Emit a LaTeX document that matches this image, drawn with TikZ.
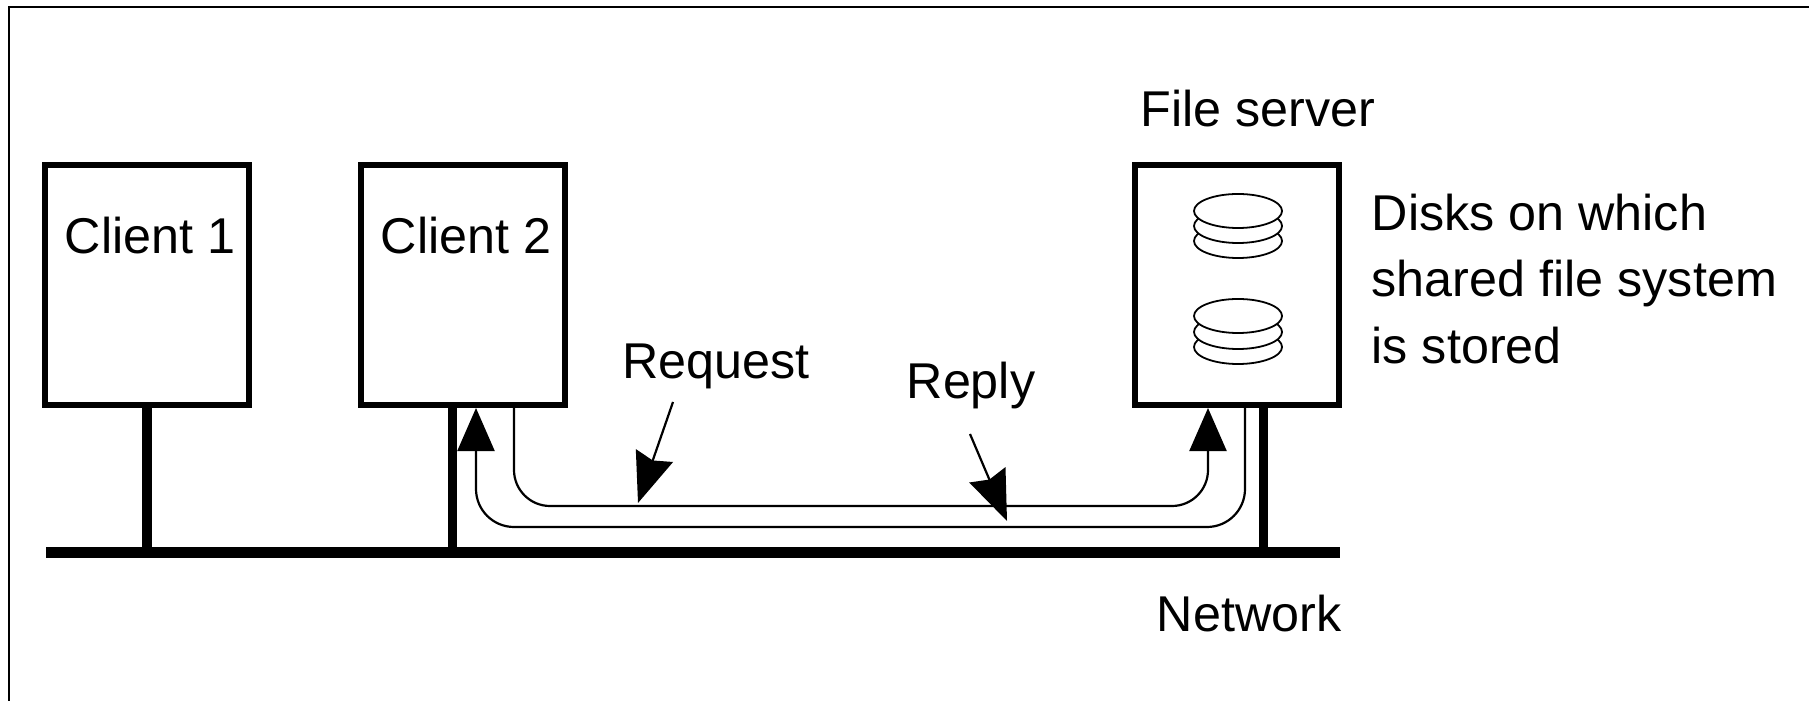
\documentclass[tikz,border=0pt]{standalone}
\usepackage{fontspec}
\setmainfont{Liberation Sans}
\usetikzlibrary{arrows.meta,shapes.geometric}
\tikzset{
  hostbox/.style={draw,line width=0.6mm,minimum width=2.04cm,minimum height=2.39cm,inner sep=0pt},
  hostlabel/.style={font=\fontsize{14.3}{18.8}\selectfont,inner sep=0pt},
  disk/.style={draw,fill=white,ellipse,line width=0.18mm,minimum width=0.88cm,minimum height=0.34cm,inner sep=0pt},
  wire/.style={line width=0.9mm},
  flow/.style={line width=0.22mm,rounded corners=0.36cm,-{Triangle[length=0.43cm,width=0.37cm]}},
  pointer/.style={line width=0.22mm,-{Stealth[length=0.5cm,width=0.39cm,inset=0.05cm]}}
}
\begin{document}
\begin{tikzpicture}[x=0.01cm,y=-0.01cm]
\useasboundingbox (0,0) rectangle (1809,701);
\draw [line width=0.22mm] (9,701) -- (9,7) -- (1809,7);
\node [hostbox] (client1) at (147,285) {};
\node [hostbox] (client2) at (463,285) {};
\node [hostbox] (server) at (1237,285) {};
\node [hostlabel] (client1text) at (150,236) {Client 1};
\node [hostlabel] (client2text) at (466,236) {Client 2};
\node [hostlabel] (servertext) at (1258,109) {File server};
\node [hostlabel,align=left,anchor=west] (disktext) at (1371,279) {Disks on which\\shared file system\\is stored};
\node [hostlabel] (requesttext) at (716,366) {Request};
\node [hostlabel] (replytext) at (971,386) {Reply};
\node [hostlabel] (networktext) at (1249,614) {Network};
% disks in the server
\foreach \n/\y in {a3/241,a2/226,a1/211,b3/347,b2/332,b1/316}
  \node [disk] (\n) at (1238,\y) {};
% network and stubs
\coordinate (netleft) at (46,553);
\coordinate (netright) at (1340,553);
\coordinate (stub1) at (147,553);
\coordinate (stub2) at (452,553);
\coordinate (stub3) at (1263,553);
\draw [line width=1.1mm] (netleft) -- (netright);
\draw [wire] (stub1) -- (stub1 |- client1.south);
\draw [wire] (stub2) -- (stub2 |- client2.south);
\draw [wire] (stub3) -- (stub3 |- server.south);
% request and reply paths
\coordinate (reqout) at (514,408);
\coordinate (reqin) at (1208,408);
\coordinate (repout) at (1245,408);
\coordinate (repin) at (476,408);
\draw [flow] (reqout) -- (514,506) -- (1208,506) -- (reqin);
\draw [flow,rounded corners=0.38cm] (repout) -- (1245,527) -- (476,527) -- (repin);
% pointers
\coordinate (reqfrom) at (673,402);
\coordinate (reqtip) at (638,503);
\coordinate (repfrom) at (970,434);
\coordinate (reptip) at (1007,521);
\draw [pointer] (reqfrom) -- (reqtip);
\draw [pointer] (repfrom) -- (reptip);
\end{tikzpicture}
\end{document}
